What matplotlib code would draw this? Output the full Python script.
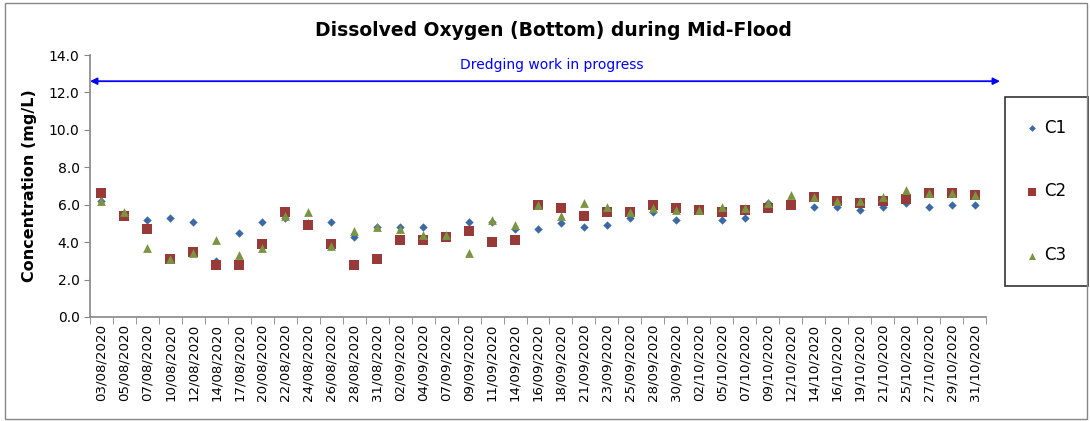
import matplotlib
matplotlib.use("Agg")
import matplotlib.pyplot as plt
from matplotlib.patches import Rectangle

dates = ["03/08/2020", "05/08/2020", "07/08/2020", "10/08/2020", "12/08/2020",
         "14/08/2020", "17/08/2020", "20/08/2020", "22/08/2020", "24/08/2020",
         "26/08/2020", "28/08/2020", "31/08/2020", "02/09/2020", "04/09/2020",
         "07/09/2020", "09/09/2020", "11/09/2020", "14/09/2020", "16/09/2020",
         "18/09/2020", "21/09/2020", "23/09/2020", "25/09/2020", "28/09/2020",
         "30/09/2020", "02/10/2020", "05/10/2020", "07/10/2020", "09/10/2020",
         "12/10/2020", "14/10/2020", "16/10/2020", "19/10/2020", "21/10/2020",
         "25/10/2020", "27/10/2020", "29/10/2020", "31/10/2020"]

c1 = [6.2, 5.5, 5.2, 5.3, 5.1, 3.0, 4.5, 5.1, 5.3, 5.0,
      5.1, 4.3, 4.8, 4.8, 4.8, 4.3, 5.1, 5.1, 4.7, 4.7,
      5.0, 4.8, 4.9, 5.3, 5.6, 5.2, 5.7, 5.2, 5.3, 6.1,
      6.1, 5.9, 5.9, 5.7, 5.9, 6.1, 5.9, 6.0, 6.0]
c2 = [6.6, 5.4, 4.7, 3.1, 3.5, 2.8, 2.8, 3.9, 5.6, 4.9,
      3.9, 2.8, 3.1, 4.1, 4.1, 4.3, 4.6, 4.0, 4.1, 6.0,
      5.8, 5.4, 5.6, 5.6, 6.0, 5.8, 5.7, 5.6, 5.7, 5.8,
      6.0, 6.4, 6.2, 6.1, 6.2, 6.3, 6.6, 6.6, 6.5]
c3 = [6.2, 5.6, 3.7, 3.1, 3.4, 4.1, 3.3, 3.7, 5.4, 5.6,
      3.8, 4.6, 4.8, 4.7, 4.4, 4.4, 3.4, 5.2, 4.9, 6.0,
      5.4, 6.1, 5.9, 5.6, 5.8, 5.7, 5.7, 5.9, 5.8, 6.1,
      6.5, 6.4, 6.2, 6.2, 6.4, 6.8, 6.6, 6.6, 6.5]

yticks = [0, 2, 4, 6, 8, 10, 12, 14]

fig = plt.figure(figsize=(10.9, 4.21), dpi=100)
ax = fig.add_axes([90/1090, 1-317/421, (986-90)/1090, (317-55)/421])

x = list(range(len(dates)))
ax.scatter(x, c1, marker="D", s=18, color="#3B68A6", label="C1", zorder=3, linewidths=0)
ax.scatter(x, c2, marker="s", s=55, color="#983A37", label="C2", zorder=3, linewidths=0)
ax.scatter(x, c3, marker="^", s=40, color="#7A9441", label="C3", zorder=4, linewidths=0)

ax.set_xlim(-0.5, len(dates) - 0.5)
ax.set_ylim(0, 14)
ax.set_yticks(yticks)
ax.set_yticklabels([f"{v:.1f}" for v in yticks], fontsize=10)
ax.set_xticks(x)
ax.set_xticklabels(dates, rotation=90, fontsize=9.6)
ax.set_xticks([i - 0.5 for i in range(len(dates) + 1)], minor=True)
ax.tick_params(axis="x", which="major", length=0, pad=5)
ax.tick_params(axis="x", which="minor", length=5, color="#868686", direction="out")
ax.tick_params(axis="y", length=4, color="#868686", direction="out")

for s in ["top", "right"]:
    ax.spines[s].set_visible(False)
for s in ["left", "bottom"]:
    ax.spines[s].set_color("#868686")
    ax.spines[s].set_linewidth(1.2)

ax.set_ylabel("Concentration (mg/L)", fontsize=11.5, fontweight="bold")
ax.yaxis.set_label_coords(-0.059, 0.5)

fig.text(553/1090, 1-30/421, "Dissolved Oxygen (Bottom) during Mid-Flood",
         ha="center", va="center", fontsize=13.5, fontweight="bold")

# dredging arrow
trans = ax.get_yaxis_transform()
ax.annotate("", xy=(0.0, 12.6), xytext=((1000-90)/896, 12.6), xycoords=trans,
            textcoords=trans, annotation_clip=False,
            arrowprops=dict(arrowstyle="<|-|>", color="#0000FF", lw=1.3,
                            mutation_scale=10, shrinkA=0, shrinkB=0))
ax.text((552-90)/896, 13.45, "Dredging work in progress", transform=trans,
        ha="center", va="center", fontsize=10, color="#0000FF")

leg = ax.legend(loc="upper left", bbox_to_anchor=(1005/1090, 1-97/421),
                bbox_transform=fig.transFigure, fontsize=12, frameon=True,
                fancybox=False, edgecolor="black", labelspacing=2.75,
                borderpad=1.3, handlelength=0.6, handletextpad=0.45,
                borderaxespad=0, markerscale=0.8)
leg.get_frame().set_linewidth(1.2)

fig.patches.append(Rectangle((5/1090, 2/421), 1082/1090, 416/421,
                             transform=fig.transFigure, fill=False,
                             edgecolor="#868686", linewidth=1.0))

fig.savefig("out.png", dpi=100)
